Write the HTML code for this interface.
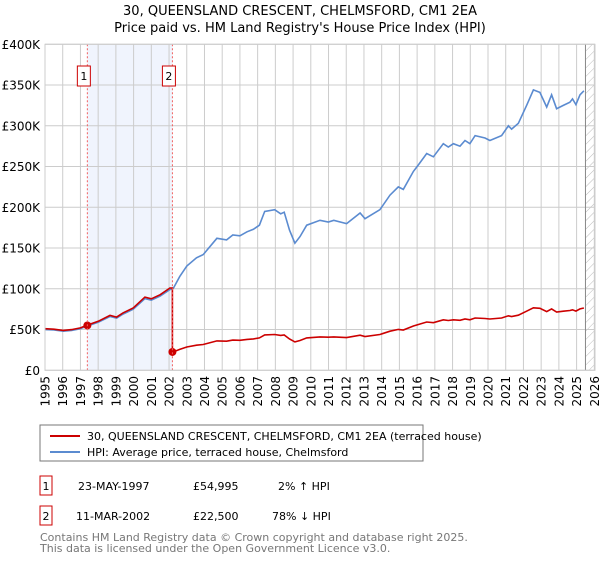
<!DOCTYPE html>
<html><head><meta charset="utf-8"><style>
body{margin:0;background:#fff;font-family:"Liberation Sans","DejaVu Sans",sans-serif;}
svg text{font-family:"DejaVu Sans","Liberation Sans",sans-serif;}
</style></head><body>
<svg id="s" width="600" height="560" xmlns="http://www.w3.org/2000/svg">
<defs><pattern id="h" width="6" height="6" patternUnits="userSpaceOnUse" patternTransform="rotate(45)"><line x1="0" y1="0" x2="0" y2="6" stroke="#bbb" stroke-width="1"/></pattern></defs>
<text x="300" y="15" text-anchor="middle" font-size="13">30, QUEENSLAND CRESCENT, CHELMSFORD, CM1 2EA</text>
<text x="300" y="32" text-anchor="middle" font-size="13">Price paid vs. HM Land Registry's House Price Index (HPI)</text>
<g id="g"></g>
<rect x="40" y="425" width="383" height="36" fill="#fff" stroke="#777"/>
<line x1="50" y1="436" x2="80" y2="436" stroke="#cc0000" stroke-width="2"/>
<text x="87" y="440" font-size="11">30, QUEENSLAND CRESCENT, CHELMSFORD, CM1 2EA (terraced house)</text>
<line x1="50" y1="452" x2="80" y2="452" stroke="#5b8bd0" stroke-width="2"/>
<text x="87" y="456" font-size="11">HPI: Average price, terraced house, Chelmsford</text>
<rect x="40" y="476" width="12" height="19" fill="#fff" stroke="#cc0000"/><text x="46" y="490" font-size="11" text-anchor="middle">1</text>
<text x="78" y="490" font-size="11">23-MAY-1997</text><text x="193" y="490" font-size="11">£54,995</text><text x="278" y="490" font-size="11">2% ↑ HPI</text>
<rect x="40" y="506" width="12" height="19" fill="#fff" stroke="#cc0000"/><text x="46" y="520" font-size="11" text-anchor="middle">2</text>
<text x="76" y="520" font-size="11">11-MAR-2002</text><text x="193" y="520" font-size="11">£22,500</text><text x="272" y="520" font-size="11">78% ↓ HPI</text>
<text x="40" y="541" font-size="11" fill="#777">Contains HM Land Registry data © Crown copyright and database right 2025.</text>
<text x="40" y="552" font-size="11" fill="#777">This data is licensed under the Open Government Licence v3.0.</text>
</svg>
<script>
var L=45,R=595,T=44.3,B=370.3;
function X(y){return L+(y-1995)*17.72;}
function Y(v){return B-v*0.815;}
var g=document.getElementById('g'),h='';
h+='<rect x="'+X(1997.39)+'" y="'+T+'" width="'+(X(2002.19)-X(1997.39))+'" height="'+(B-T)+'" fill="#f0f4fd"/>';
h+='<rect x="'+X(2025.5)+'" y="'+T+'" width="'+(R-X(2025.5))+'" height="'+(B-T)+'" fill="url(#h)"/>';
for(var y=1995;y<=2026;y++){h+='<line x1="'+X(y)+'" y1="'+T+'" x2="'+X(y)+'" y2="'+B+'" stroke="#ccc"/>';
h+='<text transform="translate('+(X(y)+4.5)+',376) rotate(-90)" text-anchor="end" font-size="12">'+y+'</text>';}
for(var k=0;k<=400;k+=50){h+='<line x1="'+L+'" y1="'+Y(k)+'" x2="'+R+'" y2="'+Y(k)+'" stroke="#ccc"/>';
h+='<text x="40" y="'+(Y(k)+4.5)+'" text-anchor="end" font-size="12">'+(k?'£'+k+'K':'£0')+'</text>';}
h+='<line x1="'+X(2025.5)+'" y1="'+T+'" x2="'+X(2025.5)+'" y2="'+B+'" stroke="#888"/>';
var hp=[[1995,50],[1995.5,49.5],[1996.03,48],[1996.5,49],[1997,51],[1997.35,54],[1998,59],[1998.67,66],[1999.04,64],[1999.4,69],[1999.98,75],[2000.64,88],[2001,86],[2001.5,91],[2002.05,99],[2002.25,101],[2002.6,115],[2003,128],[2003.55,138],[2003.93,142],[2004.7,162],[2005.25,160],[2005.6,166],[2006,165],[2006.4,170],[2006.76,173],[2007.1,178],[2007.4,195],[2007.96,197],[2008.3,192],[2008.5,194],[2008.8,172],[2009.1,156],[2009.39,164],[2009.77,178],[2010.52,184],[2010.99,182],[2011.3,184],[2012.02,180],[2012.78,193],[2013.06,186],[2013.9,197],[2014.47,215],[2014.94,225],[2015.22,222],[2015.79,244],[2016.07,252],[2016.54,266],[2016.92,262],[2017.48,278],[2017.76,274],[2018.05,278],[2018.42,275],[2018.7,282],[2018.98,278],[2019.27,288],[2019.83,285],[2020.11,282],[2020.77,288],[2021.15,300],[2021.33,296],[2021.71,303],[2022.18,325],[2022.56,344],[2022.93,341],[2023.31,323],[2023.59,338],[2023.87,321],[2024.25,325],[2024.62,329],[2024.77,333],[2024.96,326],[2025.19,338],[2025.41,343]];
function path(a){return a.map(function(p,i){return (i?'L':'M')+X(p[0]).toFixed(1)+','+Y(p[1]).toFixed(1);}).join('');}
h+='<path d="'+path(hp)+'" fill="none" stroke="#5b8bd0" stroke-width="1.6"/>';
var red=[];
hp.forEach(function(p){if(p[0]<2002.19)red.push([p[0],p[1]*1.02]);});
red.push([2002.19,101]);red.push([2002.19,22.5]);
hp.forEach(function(p){if(p[0]>2002.19)red.push([p[0],p[1]*0.223]);});
h+='<path d="'+path(red)+'" fill="none" stroke="#cc0000" stroke-width="1.6"/>';
h+='<circle cx="'+X(1997.39)+'" cy="'+Y(55)+'" r="4" fill="#cc0000"/><circle cx="'+X(2002.19)+'" cy="'+Y(22.5)+'" r="4" fill="#cc0000"/>';
[[1997.39,'1'],[2002.19,'2']].forEach(function(m){var x=X(m[0]);
h+='<line x1="'+x+'" y1="'+T+'" x2="'+x+'" y2="'+B+'" stroke="#f06060" stroke-dasharray="2,2"/>';
h+='<rect x="'+(x-10)+'" y="66" width="13" height="20" fill="#fff" stroke="#cc0000"/><text x="'+(x-3.5)+'" y="80" text-anchor="middle" font-size="11">'+m[1]+'</text>';});
h+='<rect x="'+L+'" y="'+T+'" width="'+(R-L)+'" height="'+(B-T)+'" fill="none" stroke="#ccc"/>';
g.innerHTML=h;
</script>
</body></html>
